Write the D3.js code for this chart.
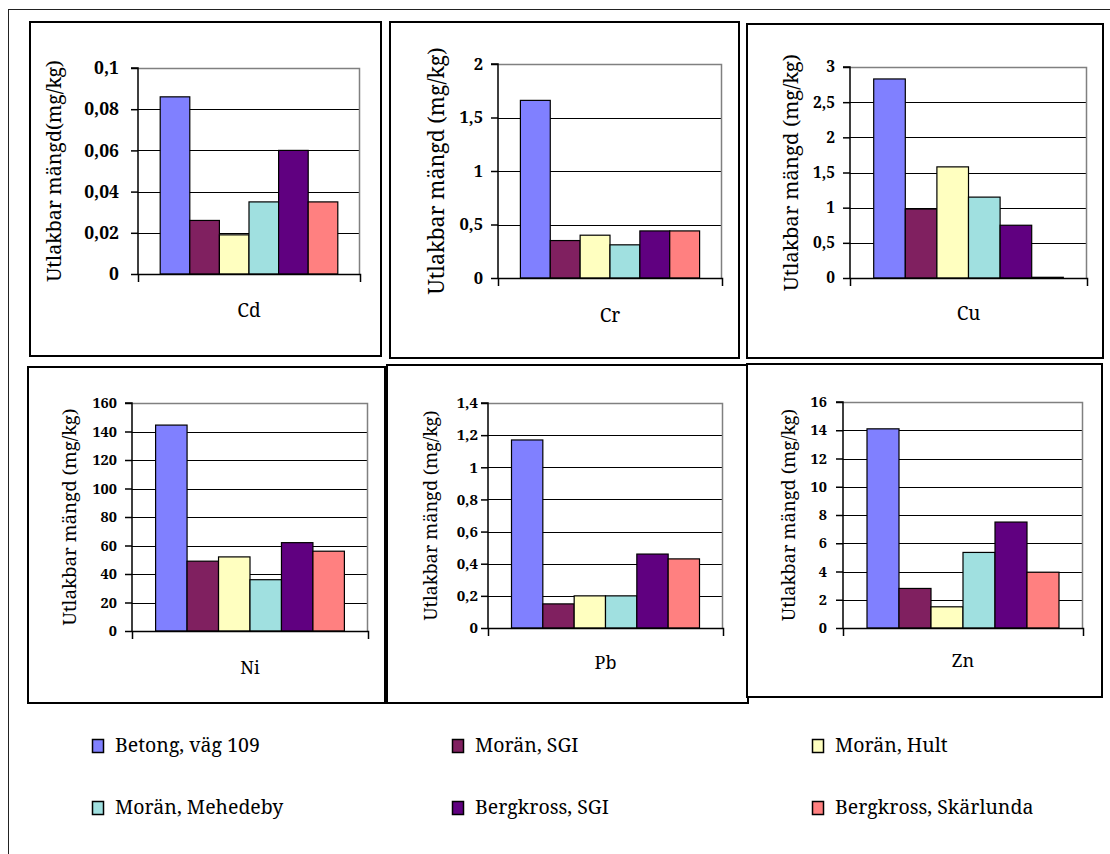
<!DOCTYPE html>
<html>
<head>
<meta charset="utf-8">
<script src="https://cdn.jsdelivr.net/npm/d3@7"></script>
<style>
  html, body { margin: 0; padding: 0; background: #fff; }
  svg { display: block; }
</style>
</head>
<body>
<svg id="chart" width="1110" height="854"></svg>
<script>
// Leachable amounts of metals per material (mg/kg)
const metals = ["Cd", "Cr", "Cu", "Ni", "Pb", "Zn"];
const materials = ["Betong, väg 109", "Morän, SGI", "Morän, Hult", "Morän, Mehedeby", "Bergkross, SGI", "Bergkross, Skärlunda"];
const colors = ["#8080FF", "#802060", "#FFFFC0", "#A0E0E0", "#600080", "#FF8080"];

const cdValues = [0.086, 0.026, 0.019, 0.035, 0.060, 0.035];
const crValues = [1.66, 0.35, 0.40, 0.31, 0.44, 0.44];
const cuValues = [2.83, 0.98, 1.58, 1.15, 0.75, 0.01];
const niValues = [144.5, 49, 52, 36, 62, 56];
const pbValues = [1.17, 0.15, 0.20, 0.20, 0.46, 0.43];
const znValues = [14.1, 2.8, 1.5, 5.35, 7.5, 3.95];

const cdTicks = [0, 0.02, 0.04, 0.06, 0.08, 0.1];
const crTicks = [0, 0.5, 1, 1.5, 2];
const cuTicks = [0, 0.5, 1, 1.5, 2, 2.5, 3];
const niTicks = [0, 20, 40, 60, 80, 100, 120, 140, 160];
const pbTicks = [0, 0.2, 0.4, 0.6, 0.8, 1, 1.2, 1.4];
const znTicks = [0, 2, 4, 6, 8, 10, 12, 14, 16];

const yTitles = ["Utlakbar mängd(mg/kg)", "Utlakbar mängd (mg/kg)", "Utlakbar mängd (mg/kg)",
                 "Utlakbar mängd (mg/kg)", "Utlakbar mängd (mg/kg)", "Utlakbar mängd (mg/kg)"];

const values = [cdValues, crValues, cuValues, niValues, pbValues, znValues];
const ticks = [cdTicks, crTicks, cuTicks, niTicks, pbTicks, znTicks];

const FONT = '"Noto Serif", "DejaVu Serif", serif';

// Swedish number format: decimal comma
const sv = d3.formatLocale({ decimal: ",", thousands: "\u00a0", grouping: [3], currency: ["", ""] });
const fmt = sv.format("~g");

// Layout of each small chart: frame box, plot area, label placement and text sizes
const layout = [
  { box: [30, 22, 381, 356],   plot: [138, 68, 360, 274],  titleX: 53,  titleLen: 222, tickSize: 17.5, pad: 12, catY: 310, catSize: 19 },
  { box: [390, 22, 739, 358],  plot: [498, 64, 722, 278],  titleX: 435, titleLen: 247, tickSize: 16.5, pad: 8,  catY: 315, catSize: 19 },
  { box: [747, 24, 1103, 358], plot: [850, 67, 1087, 278], titleX: 790, titleLen: 237, tickSize: 15.5, pad: 8,  catY: 313, catSize: 19 },
  { box: [28, 367, 385, 703],  plot: [132, 403, 368, 631], titleX: 68,  titleLen: 217, tickSize: 14.5, pad: 8,  catY: 667, catSize: 18 },
  { box: [387, 365, 748, 703], plot: [488, 403, 723, 628], titleX: 430, titleLen: 210, tickSize: 15,   pad: 3,  catY: 662, catSize: 18 },
  { box: [747, 364, 1102, 697],plot: [843, 402, 1083, 628],titleX: 787, titleLen: 212, tickSize: 14.5, pad: 9,  catY: 660, catSize: 18 }
];

const svg = d3.select("#chart");

// Outer page frame (left and top edges visible)
svg.append("rect")
  .attr("x", 8.5).attr("y", 9.5)
  .attr("width", 1200).attr("height", 1000)
  .attr("fill", "none").attr("stroke", "#222").attr("stroke-width", 1);

metals.forEach((metal, i) => {
  const L = layout[i];
  const [bx0, by0, bx1, by1] = L.box;
  const [px0, py0, px1, py1] = L.plot;
  const tv = ticks[i];
  const g = svg.append("g");

  // chart frame
  g.append("rect")
    .attr("x", bx0).attr("y", by0)
    .attr("width", bx1 - bx0).attr("height", by1 - by0)
    .attr("fill", "#fff").attr("stroke", "#000").attr("stroke-width", 2);

  const y = d3.scaleLinear().domain([0, d3.max(tv)]).range([py1, py0]);

  // one category spanning the plot; bars fill it with a 150% gap width
  const cat = d3.scaleBand().domain([metal]).range([px0, px1]).paddingInner(0).paddingOuter(0);
  const bw = (px1 - px0) / (materials.length + 1.5);
  const x = d3.scaleBand().domain(materials)
    .range([cat(metal) + bw * 0.75, cat(metal) + cat.bandwidth() - bw * 0.75])
    .paddingInner(0).paddingOuter(0);

  // horizontal gridlines
  g.append("g").selectAll("line")
    .data(tv.filter(t => t > 0 && t < d3.max(tv)))
    .join("line")
    .attr("x1", px0).attr("x2", px1)
    .attr("y1", d => Math.round(y(d)) + 0.5).attr("y2", d => Math.round(y(d)) + 0.5)
    .attr("stroke", "#000").attr("stroke-width", 1);

  // plot-area border (top and right in grey)
  g.append("path")
    .attr("d", `M${px0},${py0 + 0.5}H${px1 - 0.5}V${py1}`)
    .attr("fill", "none").attr("stroke", "#808080").attr("stroke-width", 1.5);

  // bars
  g.append("g").selectAll("rect")
    .data(values[i].map((v, k) => ({ k, v })))
    .join("rect")
    .attr("x", d => x(materials[d.k]))
    .attr("y", d => y(d.v))
    .attr("width", x.bandwidth())
    .attr("height", d => y(0) - y(d.v))
    .attr("fill", d => colors[d.k])
    .attr("stroke", "#000").attr("stroke-width", 1.2);

  // value axis
  const yAxis = d3.axisLeft(y).tickValues(tv).tickFormat(fmt).tickSize(7).tickPadding(L.pad);
  const ya = g.append("g").attr("transform", `translate(${px0},0)`).call(yAxis);
  ya.attr("font-family", null).attr("font-size", null);
  ya.select(".domain").attr("stroke", "#000").attr("stroke-width", 1.5).attr("d", `M-7,${py0}H0V${py1}`);
  ya.selectAll(".tick line").attr("stroke", "#000").attr("stroke-width", 1.5);
  ya.selectAll(".tick text")
    .style("font-family", FONT).style("font-weight", "bold")
    .style("font-size", L.tickSize + "px").attr("fill", "#000");

  // category axis with end ticks
  const xAxis = d3.axisBottom(cat).tickValues([]).tickSizeOuter(8);
  const xa = g.append("g").attr("transform", `translate(0,${py1})`).call(xAxis);
  xa.select(".domain").attr("stroke", "#000").attr("stroke-width", 1.5);

  // category label
  g.append("text")
    .attr("x", cat(metal) + cat.bandwidth() / 2)
    .attr("y", L.catY)
    .attr("text-anchor", "middle").attr("dominant-baseline", "central")
    .style("font-family", FONT).style("font-size", L.catSize + "px")
    .text(metal);

  // value axis title, sized to span its measured length
  const title = g.append("text")
    .attr("transform", `translate(${L.titleX},${(py0 + py1) / 2}) rotate(-90)`)
    .attr("text-anchor", "middle").attr("dominant-baseline", "central")
    .style("font-family", FONT).style("font-size", "18px")
    .text(yTitles[i]);
  const tw = title.node().getComputedTextLength();
  title.style("font-size", (18 * L.titleLen / tw).toFixed(2) + "px");
});

// legend: three columns, two rows
const legendCols = [92, 452, 812];
const legendRows = [739, 801];
const lg = svg.append("g");
materials.forEach((m, k) => {
  const cx = legendCols[k % 3];
  const cy = legendRows[Math.floor(k / 3)];
  lg.append("rect")
    .attr("x", cx + 0.5).attr("y", cy + 0.5)
    .attr("width", 11).attr("height", 13)
    .attr("fill", colors[k]).attr("stroke", "#000").attr("stroke-width", 1.5);
  lg.append("text")
    .attr("x", cx + 23).attr("y", cy + 13)
    .style("font-family", FONT).style("font-size", "19.5px")
    .text(m);
});
</script>
</body>
</html>
